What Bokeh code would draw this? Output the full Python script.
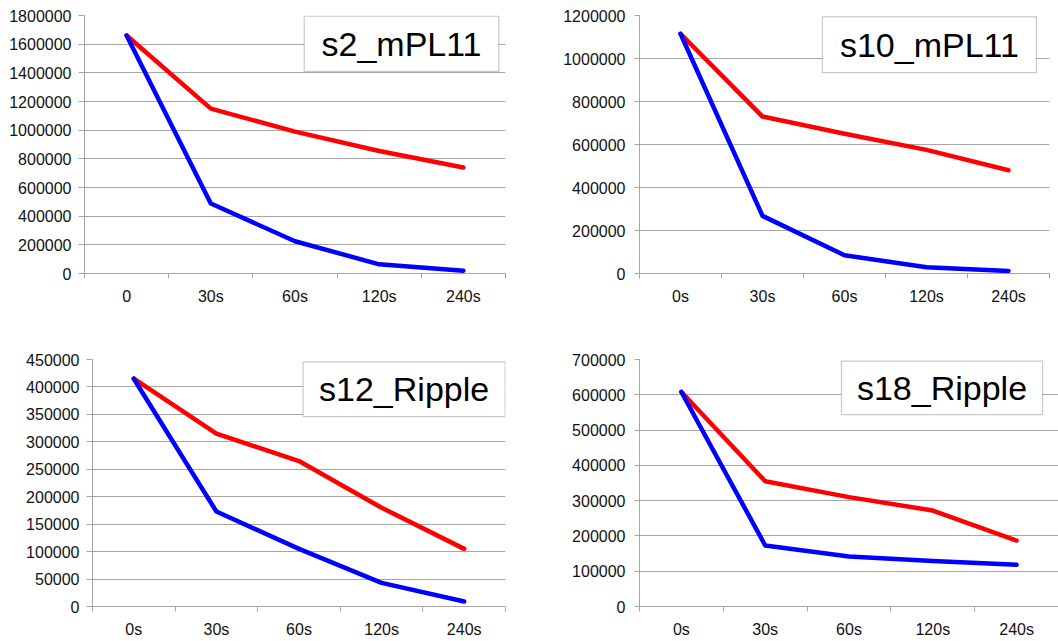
from bokeh.plotting import figure
from bokeh.layouts import column, row
from bokeh.models import Range1d, FixedTicker, BoxAnnotation, Label, NumeralTickFormatter
from bokeh.embed import file_html
from bokeh.resources import INLINE

# ---- data ----
categories_a = ["0", "30s", "60s", "120s", "240s"]
categories_b = ["0s", "30s", "60s", "120s", "240s"]

s2_red = [1660000, 1150000, 990000, 855000, 740000]
s2_blue = [1660000, 488000, 225000, 64000, 20000]

s10_red = [1115000, 730000, 650000, 575000, 480000]
s10_blue = [1115000, 268000, 85000, 29000, 12000]

s12_red = [415000, 315000, 265000, 180000, 105000]
s12_blue = [415000, 173000, 105000, 43000, 9000]

s18_red = [608000, 355000, 310000, 272000, 187000]
s18_blue = [608000, 173000, 142000, 129000, 118000]

titles = ["s2_mPL11", "s10_mPL11", "s12_Ripple", "s18_Ripple"]
y_max = [1800000, 1200000, 450000, 700000]
y_step = [200000, 200000, 50000, 100000]

GRID = "#a6a6a6"
TXT = "#111111"
FONT = "Liberation Sans"


def make_panel(cats, red, blue, ymax, ystep, title, box, width, height,
               bl, br, bt, bb, xend, ystandoff, ytick):
    p = figure(width=width, height=height, output_backend="svg",
               toolbar_location=None, x_range=Range1d(0, xend),
               y_range=Range1d(0, ymax),
               min_border_left=bl, min_border_right=br,
               min_border_top=bt, min_border_bottom=bb)
    p.background_fill_color = "white"
    p.border_fill_color = "white"
    p.outline_line_color = None

    xs = [i + 0.5 for i in range(len(cats))]
    p.line(xs, red, line_color="#ff0000", line_width=4.5,
           line_join="round", line_cap="round")
    p.line(xs, blue, line_color="#0000ff", line_width=4.5,
           line_join="round", line_cap="round")

    # x axis
    xa = p.xaxis[0]
    xa.ticker = FixedTicker(ticks=xs, minor_ticks=list(range(len(cats) + 1)))
    xa.major_label_overrides = {x: c for x, c in zip(xs, cats)}
    xa.major_tick_out = 0
    xa.major_tick_in = 0
    xa.major_tick_line_color = None
    xa.minor_tick_out = 5
    xa.minor_tick_in = 0
    xa.minor_tick_line_color = GRID
    xa.axis_line_color = GRID
    xa.major_label_standoff = 9
    xa.major_label_text_font = FONT
    xa.major_label_text_font_size = "16px"
    xa.major_label_text_color = TXT

    # y axis
    ya = p.yaxis[0]
    yt = list(range(0, ymax + 1, ystep))
    ya.ticker = FixedTicker(ticks=yt)
    ya.formatter = NumeralTickFormatter(format="0")
    ya.major_tick_out = ytick
    ya.major_tick_in = 0
    ya.major_tick_line_color = GRID
    ya.minor_tick_line_color = None
    ya.axis_line_color = GRID
    ya.major_label_standoff = ystandoff
    ya.major_label_text_font = FONT
    ya.major_label_text_font_size = "16px"
    ya.major_label_text_color = TXT

    p.xgrid.grid_line_color = None
    p.ygrid.ticker = FixedTicker(ticks=yt)
    p.ygrid.grid_line_color = GRID
    p.ygrid.grid_line_width = 1

    left, right, top, bottom = box
    p.add_layout(BoxAnnotation(left=left, right=right, top=top, bottom=bottom,
                               fill_color="white", fill_alpha=1.0,
                               line_color="#505050", line_width=1.2))
    p.add_layout(Label(x=(left + right) / 2, y=(top + bottom) / 2, text=title,
                       text_align="center", text_baseline="middle",
                       text_font=FONT, text_font_size="34px", text_color="black"))
    return p


p1 = make_panel(categories_a, s2_red, s2_blue, y_max[0], y_step[0], titles[0],
                (2.61, 4.92, 1795000, 1410000),
                538, 325, 84, 33, 15, 47, 5, 7, 6)
p2 = make_panel(categories_b, s10_red, s10_blue, y_max[1], y_step[1], titles[1],
                (2.23, 4.84, 1194000, 934000),
                520, 325, 101, 9, 15, 52, 5, 9, 5)
p3 = make_panel(categories_b, s12_red, s12_blue, y_max[2], y_step[2], titles[2],
                (2.55, 4.995, 445700, 345900),
                538, 315, 92, 33, 34, 30, 5, 7, 6)
p4 = make_panel(categories_b, s18_red, s18_blue, y_max[3], y_step[3], titles[3],
                (2.41, 4.81, 695400, 543600),
                520, 315, 101, 0, 25, 32, 5, 9, 5)

layout = column(row(p1, p2, spacing=0), row(p3, p4, spacing=0), spacing=0)

open("out.html", "w").write(file_html(layout, INLINE))
